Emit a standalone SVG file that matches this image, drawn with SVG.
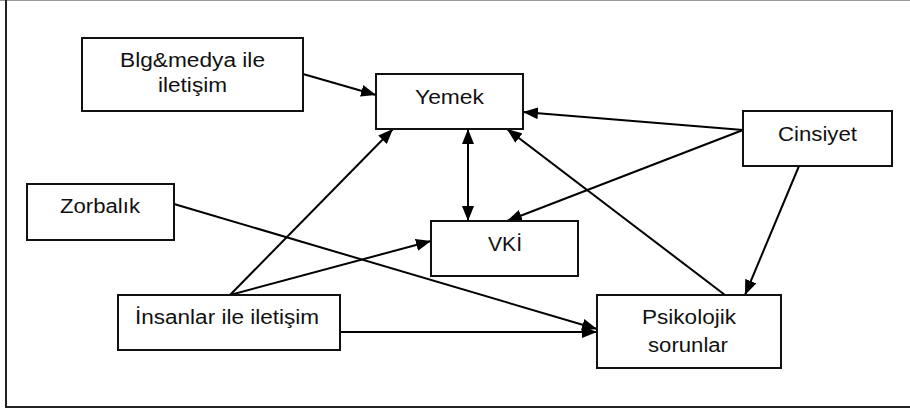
<svg xmlns="http://www.w3.org/2000/svg" width="910" height="411" viewBox="0 0 910 411">
<style>
.box{fill:#fff;stroke:#111;stroke-width:2}
.lbl{font-family:"Liberation Sans",Arial,sans-serif;font-size:20px;fill:#111;text-anchor:middle}
.con{stroke:#000;stroke-width:2;fill:none}
</style>
<defs>
<marker id="ah" markerUnits="userSpaceOnUse" markerWidth="16" markerHeight="12" refX="15" refY="6" orient="auto">
<path d="M0,0 L15,6 L0,12 z" fill="#000"/>
</marker>
<marker id="as" markerUnits="userSpaceOnUse" markerWidth="16" markerHeight="12" refX="0" refY="6" orient="auto">
<path d="M15,0 L0,6 L15,12 z" fill="#000"/>
</marker>
</defs>
<rect x="0" y="0" width="910" height="411" fill="#fff"/>
<g id="frame">
<line x1="0" y1="0.5" x2="910" y2="0.5" stroke="#999" stroke-width="1"/>
<path d="M6,0 V407 H910" stroke="#222" stroke-width="2" fill="none"/>
</g>
<g id="connectors">
<line class="con" x1="303" y1="74" x2="376" y2="95" marker-end="url(#ah)"/>
<line class="con" x1="230" y1="295" x2="393" y2="129" marker-end="url(#ah)"/>
<line class="con" x1="230" y1="295" x2="431" y2="241" marker-end="url(#ah)"/>
<line class="con" x1="340" y1="332" x2="597" y2="332" marker-end="url(#ah)"/>
<line class="con" x1="174" y1="204" x2="597" y2="329" marker-end="url(#ah)"/>
<line class="con" x1="743" y1="130" x2="523" y2="112" marker-end="url(#ah)"/>
<line class="con" x1="743" y1="130" x2="507" y2="221" marker-end="url(#ah)"/>
<line class="con" x1="799" y1="166" x2="745" y2="295" marker-end="url(#ah)"/>
<line class="con" x1="725" y1="295" x2="507" y2="129" marker-end="url(#ah)"/>
<line class="con" x1="468" y1="129" x2="468" y2="221" marker-start="url(#as)" marker-end="url(#ah)"/>
</g>
<g id="blg">
<rect class="box" x="82" y="38" width="221" height="73"/>
<text class="lbl" x="192.5" y="67" textLength="145" lengthAdjust="spacingAndGlyphs">Blg&amp;medya ile</text>
<text class="lbl" x="192.5" y="92" textLength="69" lengthAdjust="spacingAndGlyphs">iletişim</text>
</g>
<g id="yemek">
<rect class="box" x="376" y="74" width="147" height="55"/>
<text class="lbl" x="449.5" y="104" textLength="69" lengthAdjust="spacingAndGlyphs">Yemek</text>
</g>
<g id="cinsiyet">
<rect class="box" x="743" y="111" width="149" height="55"/>
<text class="lbl" x="817.5" y="141" textLength="79" lengthAdjust="spacingAndGlyphs">Cinsiyet</text>
</g>
<g id="zorbalik">
<rect class="box" x="27" y="184" width="147" height="56"/>
<text class="lbl" x="100" y="213" textLength="80" lengthAdjust="spacingAndGlyphs">Zorbalık</text>
</g>
<g id="vki">
<rect class="box" x="431" y="221" width="147" height="55"/>
<text class="lbl" x="505" y="251" textLength="34" lengthAdjust="spacingAndGlyphs">VKİ</text>
</g>
<g id="insanlar">
<rect class="box" x="118" y="295" width="222" height="55"/>
<text class="lbl" x="227" y="324" textLength="184" lengthAdjust="spacingAndGlyphs">İnsanlar ile iletişim</text>
</g>
<g id="psikolojik">
<rect class="box" x="597" y="295" width="184" height="73"/>
<text class="lbl" x="689" y="324" textLength="94" lengthAdjust="spacingAndGlyphs">Psikolojik</text>
<text class="lbl" x="688" y="352" textLength="80" lengthAdjust="spacingAndGlyphs">sorunlar</text>
</g>
</svg>
